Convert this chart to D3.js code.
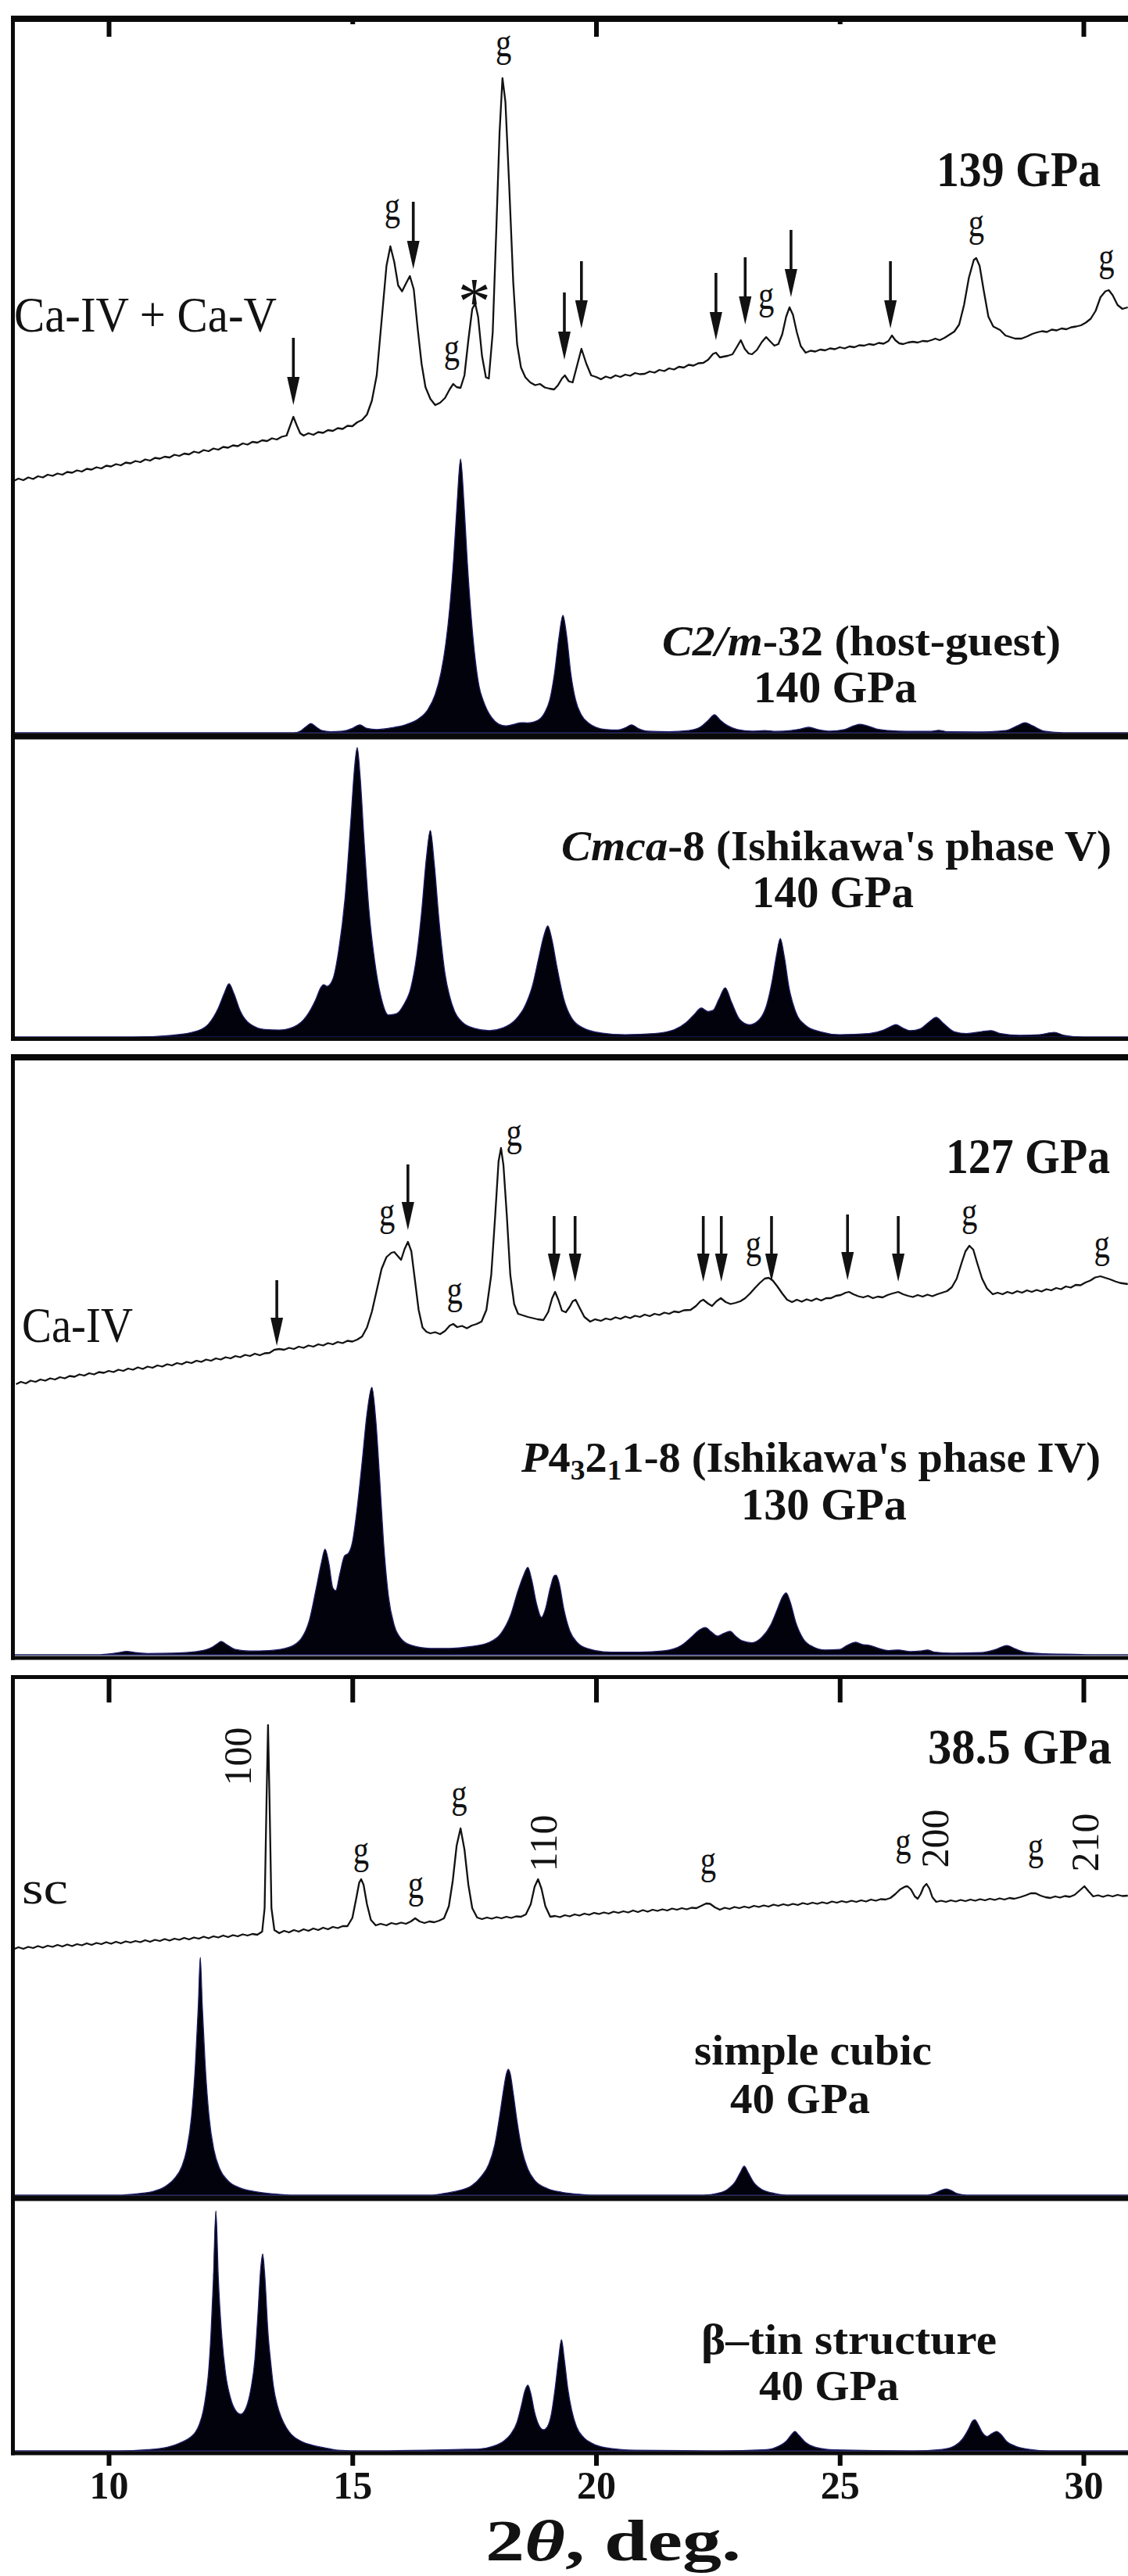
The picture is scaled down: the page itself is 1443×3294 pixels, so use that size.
<!DOCTYPE html>
<html><head><meta charset="utf-8">
<script src="https://cdn.jsdelivr.net/npm/d3@7/dist/d3.min.js"></script>
<style>
body{margin:0;background:#fff}
svg{display:block}
text{font-family:"Liberation Serif","Times New Roman",Times,serif}
</style>
</head><body>
<svg id="chart"></svg>
<script>
// ---------------- DATA (2θ in degrees, intensity in arbitrary units) ----------------
const tickValues = [10, 15, 20, 25, 30];

// measured pattern, 139 GPa (Ca-IV + Ca-V)
const exp139 = [[8.05,7.0],[8.15,7.6],[8.25,7.2],[8.35,7.9],[8.45,7.5],[8.55,8.2],[8.65,7.9],[8.75,8.6],[8.85,8.3],[8.95,8.9],[9.05,8.6],[9.15,9.3],[9.25,9.1],[9.35,9.7],[9.45,9.4],[9.55,10.1],[9.65,9.9],[9.75,10.5],[9.85,10.2],[9.95,10.9],[10.05,10.7],[10.15,11.3],[10.25,11.0],[10.35,11.7],[10.45,11.5],[10.55,12.1],[10.65,11.8],[10.75,12.5],[10.85,12.2],[10.95,12.9],[11.05,12.7],[11.15,13.2],[11.25,13.0],[11.35,13.7],[11.45,13.4],[11.55,14.0],[11.65,13.8],[11.75,14.5],[11.85,14.2],[11.95,14.9],[12.05,14.6],[12.15,15.3],[12.25,15.0],[12.35,15.7],[12.45,15.5],[12.55,16.1],[12.65,15.9],[12.75,16.6],[12.85,16.3],[12.95,17.0],[13.05,16.8],[13.15,17.4],[13.25,17.2],[13.35,17.9],[13.45,17.6],[13.55,18.3],[13.65,18.6],[13.72,21.0],[13.79,23.4],[13.86,21.2],[13.93,19.2],[14.0,18.6],[14.1,19.2],[14.2,18.8],[14.3,19.5],[14.4,19.3],[14.5,20.0],[14.6,19.8],[14.7,20.5],[14.8,20.3],[14.9,21.1],[15.0,21.0],[15.1,22.0],[15.2,22.6],[15.3,24.0],[15.4,27.5],[15.5,34],[15.6,48],[15.7,62],[15.78,67],[15.86,63],[15.94,57],[16.02,55.5],[16.1,57.5],[16.18,59.4],[16.26,56],[16.34,46],[16.42,37],[16.5,31],[16.6,28],[16.7,26.4],[16.8,27],[16.9,28.2],[17.0,30.5],[17.07,31.8],[17.14,31],[17.22,30.8],[17.3,34],[17.38,43],[17.46,51],[17.52,52.4],[17.58,49],[17.66,39],[17.74,33.5],[17.8,33.2],[17.88,45],[17.95,70],[18.02,96],[18.08,110],[18.14,104],[18.22,82],[18.3,58],[18.38,42],[18.46,36],[18.55,33.5],[18.65,32.2],[18.75,31.5],[18.85,31.8],[18.95,30.9],[19.05,30.6],[19.14,30.4],[19.22,31.5],[19.3,33.2],[19.36,34],[19.44,32.5],[19.52,32.2],[19.6,36],[19.7,40.8],[19.8,37],[19.9,34],[20.0,33.6],[20.1,33.0],[20.2,33.7],[20.3,33.3],[20.4,34.0],[20.5,33.6],[20.6,34.2],[20.7,33.9],[20.8,34.6],[20.9,34.3],[21.0,34.4],[21.1,35.0],[21.2,34.7],[21.3,35.4],[21.4,35.1],[21.5,35.8],[21.6,35.5],[21.7,36.2],[21.8,36.0],[21.9,36.7],[22.0,36.5],[22.1,37.1],[22.2,37.2],[22.3,38],[22.4,39.5],[22.46,39.8],[22.54,38.6],[22.62,38.8],[22.7,39],[22.8,39.4],[22.9,41.5],[22.97,43],[23.05,40.8],[23.13,39.6],[23.2,39.4],[23.3,40.5],[23.4,42.5],[23.49,43.8],[23.58,42.6],[23.66,41.6],[23.74,42],[23.82,44.5],[23.9,49],[23.97,51.4],[24.04,49.5],[24.12,45],[24.2,41.5],[24.3,39.8],[24.4,40.3],[24.5,40.1],[24.6,40.6],[24.7,40.4],[24.8,40.9],[24.9,40.7],[25.0,41.2],[25.1,40.9],[25.2,41.4],[25.3,41.2],[25.4,41.7],[25.5,41.6],[25.6,42.0],[25.7,41.8],[25.8,42.3],[25.9,42.1],[26.0,42.8],[26.07,44.2],[26.14,43.0],[26.22,42.2],[26.3,42.0],[26.4,42.4],[26.5,42.6],[26.6,42.4],[26.7,42.8],[26.8,42.7],[26.9,43.1],[26.96,43.4],[27.05,43.0],[27.15,43.6],[27.25,44.4],[27.35,45.2],[27.45,47],[27.55,52],[27.65,59],[27.75,63.5],[27.8,64],[27.87,62],[27.95,56],[28.05,49],[28.15,46.5],[28.29,45.6],[28.4,44.2],[28.5,43.8],[28.6,43.4],[28.73,43.4],[28.85,44.0],[28.95,44.6],[29.05,45.0],[29.15,45.3],[29.25,45.1],[29.35,45.7],[29.45,45.5],[29.55,46.0],[29.65,45.8],[29.75,46.3],[29.85,46.5],[29.95,46.8],[30.05,47.5],[30.15,48.5],[30.25,50.5],[30.35,54],[30.45,55.5],[30.52,55.8],[30.6,54.5],[30.7,52],[30.8,51],[30.91,51.4]];
const arrows139 = [[13.79,26.4],[16.25,61.2],[19.35,38],[19.7,46],[22.46,43],[23.06,47],[24.0,54],[26.04,46]];
const g139 = [[18.1,113.4],[15.82,71.6],[17.04,35.4],[23.49,48.8],[27.8,67.4],[30.47,58.6]];
const star139 = [17.5,53.2];

// calculated C2/m-32 (host-guest), 140 GPa
const calcC2m = [[8.0,0],[13.8,0],[13.95,0.8],[14.05,2.2],[14.15,3.4],[14.25,2.2],[14.38,0.8],[14.55,0.4],[14.8,0.6],[15.0,1.6],[15.15,2.9],[15.3,1.6],[15.5,1.2],[15.8,1.8],[16.1,3.0],[16.35,5.0],[16.55,8.5],[16.7,14],[16.82,22],[16.92,33],[17.0,46],[17.08,64],[17.15,84],[17.22,100],[17.29,84],[17.36,62],[17.44,42],[17.52,27],[17.6,17],[17.68,12],[17.76,8.5],[17.86,5.5],[18.0,3.2],[18.15,2.5],[18.3,3.0],[18.47,3.7],[18.6,3.6],[18.8,4.5],[18.95,7.5],[19.05,12],[19.15,22],[19.24,35],[19.32,42.9],[19.4,35],[19.48,22],[19.58,12],[19.7,6.5],[19.85,3.5],[20.0,2.0],[20.2,1.2],[20.45,1.0],[20.6,1.8],[20.73,2.9],[20.86,1.6],[21.05,0.6],[21.5,0.4],[21.9,0.8],[22.15,2.2],[22.3,4.5],[22.43,6.6],[22.55,4.6],[22.7,2.6],[22.9,1.2],[23.2,0.6],[23.46,0.8],[23.7,0.5],[24.0,0.8],[24.2,1.4],[24.37,2.0],[24.55,1.2],[24.8,0.6],[25.1,1.2],[25.3,2.6],[25.41,3.1],[25.55,2.6],[25.75,1.4],[26.0,0.8],[26.4,0.5],[26.85,0.5],[27.03,0.9],[27.2,0.4],[27.8,0.3],[28.4,0.8],[28.65,2.6],[28.8,3.7],[28.95,2.6],[29.2,0.6],[29.6,0],[31,0]];

// calculated Cmca-8 (Ishikawa's phase V), 140 GPa
const calcCmca = [[8.0,0],[10.5,0],[11.3,0.6],[11.8,2.0],[12.05,4.5],[12.25,10],[12.37,15],[12.47,18.4],[12.57,15],[12.7,9],[12.9,4.5],[13.2,2.6],[13.5,2.4],[13.8,3.5],[14.05,7],[14.25,13],[14.35,17],[14.41,18.1],[14.48,17.5],[14.6,20],[14.72,30],[14.85,48],[14.97,75],[15.05,94],[15.1,100],[15.16,90],[15.24,68],[15.34,44],[15.46,26],[15.6,13],[15.74,7.6],[15.9,8],[16.05,11],[16.2,17],[16.32,28],[16.42,43],[16.52,62],[16.6,71.4],[16.68,60],[16.78,40],[16.9,22],[17.05,11],[17.25,5.2],[17.5,3],[17.81,2.2],[18.1,3.2],[18.35,6],[18.55,11],[18.7,18],[18.82,27],[18.93,35],[19.01,38.4],[19.09,34],[19.2,24],[19.34,13],[19.5,6.5],[19.75,3],[20.1,1.4],[20.6,0.8],[21.2,1.2],[21.6,2.5],[21.85,5],[22.0,7.5],[22.16,10],[22.3,8.8],[22.4,9.2],[22.52,13],[22.65,17],[22.78,12],[22.95,6],[23.15,4.2],[23.35,6],[23.5,11],[23.62,20],[23.7,28],[23.78,34],[23.86,28],[23.96,17],[24.1,8.5],[24.3,4],[24.6,1.8],[25.0,0.8],[25.6,1.2],[25.9,2.4],[26.05,3.6],[26.15,4.3],[26.28,3.2],[26.45,2.2],[26.65,2.8],[26.82,5],[26.98,6.8],[27.12,4.8],[27.35,1.8],[27.6,1.2],[27.9,1.8],[28.1,2.2],[28.3,1.2],[28.7,0.6],[29.1,0.8],[29.4,1.6],[29.6,0.6],[30.0,0],[31,0]];

// measured pattern, 127 GPa (Ca-IV)
const exp127 = [[8.1,2.0],[8.2,2.6],[8.3,2.2],[8.4,2.9],[8.5,2.6],[8.6,3.2],[8.7,2.9],[8.8,3.5],[8.9,3.2],[9.0,3.8],[9.1,3.5],[9.2,4.1],[9.3,3.9],[9.4,4.5],[9.5,4.2],[9.6,4.8],[9.7,4.5],[9.8,5.1],[9.9,4.9],[10.0,5.4],[10.1,5.1],[10.2,5.7],[10.3,5.4],[10.4,6.0],[10.5,5.7],[10.6,6.3],[10.7,5.9],[10.8,6.5],[10.9,6.2],[11.0,6.8],[11.1,6.5],[11.2,7.1],[11.3,6.8],[11.4,7.4],[11.5,7.1],[11.6,7.7],[11.7,7.4],[11.8,8.0],[11.9,7.7],[12.0,8.3],[12.1,8.0],[12.2,8.6],[12.3,8.3],[12.4,8.9],[12.5,8.6],[12.6,9.2],[12.7,8.9],[12.8,9.5],[12.9,9.2],[13.0,9.8],[13.1,9.4],[13.2,9.9],[13.3,10.0],[13.4,10.8],[13.5,11.0],[13.6,10.8],[13.7,11.3],[13.8,11.0],[13.9,11.6],[14.0,11.3],[14.1,11.9],[14.2,11.6],[14.3,12.2],[14.4,11.9],[14.5,12.5],[14.6,12.2],[14.7,12.8],[14.8,12.5],[14.9,13.1],[15.0,12.9],[15.1,13.4],[15.2,14.2],[15.3,16.5],[15.4,20.5],[15.5,26],[15.6,31.5],[15.7,34.5],[15.8,35.6],[15.86,35.8],[15.93,34.8],[16.0,33.8],[16.07,36.5],[16.14,38.4],[16.21,36],[16.28,29],[16.36,21],[16.44,16.5],[16.52,15.4],[16.6,15.0],[16.7,15.3],[16.8,14.8],[16.9,15.6],[17.0,17.0],[17.07,17.4],[17.15,16.6],[17.25,16.9],[17.35,16.3],[17.45,17.0],[17.55,17.4],[17.65,18.0],[17.75,21],[17.85,30],[17.93,45],[18.0,59],[18.05,62.4],[18.1,58],[18.17,45],[18.24,30],[18.32,22.5],[18.4,20.0],[18.5,19.6],[18.6,19.2],[18.7,18.9],[18.8,18.6],[18.92,18.4],[19.02,20.5],[19.1,24],[19.16,25.6],[19.23,23.5],[19.3,20.8],[19.38,20.4],[19.46,21.8],[19.52,23.2],[19.58,23.6],[19.66,21.6],[19.76,19.2],[19.88,18.0],[19.98,18.6],[20.1,18.2],[20.2,18.8],[20.3,18.5],[20.4,19.1],[20.5,18.7],[20.6,19.3],[20.7,18.9],[20.8,19.5],[20.9,19.2],[21.0,19.8],[21.1,19.4],[21.2,20.0],[21.3,19.7],[21.4,20.3],[21.5,20.0],[21.6,20.6],[21.7,20.4],[21.8,20.9],[21.94,21.0],[22.05,22.0],[22.14,23.2],[22.2,23.6],[22.3,22.6],[22.38,22.0],[22.47,23.2],[22.56,24.0],[22.66,23.0],[22.76,22.5],[22.86,22.8],[22.96,23.2],[23.06,24.0],[23.16,25.2],[23.26,26.6],[23.36,27.9],[23.46,29.0],[23.54,29.2],[23.62,28.6],[23.72,27.0],[23.82,25.2],[23.92,23.6],[24.02,23.0],[24.12,23.6],[24.22,23.1],[24.32,23.7],[24.42,23.3],[24.52,23.9],[24.62,23.4],[24.72,24.0],[24.82,24.0],[24.92,24.6],[25.02,24.8],[25.12,25.4],[25.19,25.6],[25.28,25.0],[25.38,24.5],[25.48,24.2],[25.58,24.6],[25.68,24.0],[25.78,24.4],[25.88,24.2],[25.98,24.8],[26.08,25.2],[26.2,25.6],[26.3,25.0],[26.4,24.6],[26.5,24.3],[26.6,24.8],[26.7,24.4],[26.8,24.9],[26.9,24.5],[27.0,25.0],[27.1,25.4],[27.2,25.8],[27.3,26.8],[27.4,29.0],[27.5,33.0],[27.58,36.0],[27.66,37.4],[27.74,36.4],[27.82,33.0],[27.92,29.0],[28.02,26.5],[28.14,25.0],[28.24,25.4],[28.34,25.0],[28.44,25.6],[28.54,25.2],[28.64,25.8],[28.74,25.4],[28.84,26.0],[28.94,25.6],[29.04,26.1],[29.14,25.7],[29.24,26.3],[29.34,26.0],[29.44,26.6],[29.54,26.3],[29.64,27.0],[29.74,26.7],[29.84,27.4],[29.94,27.3],[30.04,28.0],[30.14,28.5],[30.24,29.3],[30.35,29.6],[30.45,29.2],[30.55,28.8],[30.65,28.3],[30.75,27.9],[30.91,27.6]];
const arrows127 = [[13.45,11.8],[16.14,41.4],[19.14,28.2],[19.57,28.2],[22.2,28.2],[22.57,28.2],[23.6,28.2],[25.16,28.6],[26.2,28.2]];
const g127 = [[18.32,60.8],[15.71,40.4],[17.1,20.4],[23.23,32.2],[27.66,40.4],[30.38,32.2]];

// calculated P4(3)2(1)1-8 (Ishikawa's phase IV), 130 GPa
const calcP43 = [[8.0,0],[9.8,0],[10.0,0.3],[10.2,0.8],[10.37,1.3],[10.55,0.8],[10.8,0.5],[11.3,0.6],[11.8,1.2],[12.1,2.6],[12.22,4.0],[12.31,5.0],[12.42,3.8],[12.6,2.0],[12.9,1.4],[13.3,1.6],[13.7,2.8],[13.95,6],[14.12,13],[14.26,25],[14.36,34],[14.44,39.5],[14.52,34],[14.6,25],[14.66,24],[14.74,30],[14.84,37],[14.92,38],[15.0,42],[15.1,55],[15.2,72],[15.3,90],[15.4,100],[15.48,88],[15.56,66],[15.64,42],[15.74,22],[15.86,11],[16.0,6],[16.2,3.6],[16.6,2.4],[17.0,2.4],[17.4,3],[17.8,4.6],[18.05,8],[18.25,15],[18.4,24],[18.52,30],[18.6,32.7],[18.68,28],[18.78,19],[18.88,14],[18.96,17],[19.06,25],[19.14,29.5],[19.18,29.8],[19.24,27],[19.34,17],[19.46,9],[19.62,4.5],[19.85,2.2],[20.3,1.0],[20.9,1.0],[21.4,1.5],[21.75,3.5],[21.95,6.5],[22.1,9],[22.24,10.2],[22.36,8.6],[22.5,7],[22.62,8],[22.75,8.8],[22.86,7],[23.0,5.2],[23.2,4.5],[23.4,6.5],[23.58,11],[23.72,17],[23.82,21.5],[23.9,23.1],[23.98,20],[24.1,12],[24.25,6],[24.45,3],[24.7,1.8],[25.0,2.0],[25.15,3.5],[25.33,4.7],[25.45,3.9],[25.62,3.5],[25.8,2.4],[26.0,1.6],[26.2,1.8],[26.45,1.2],[26.65,1.4],[26.8,1.8],[26.95,1.0],[27.3,0.6],[27.9,0.8],[28.2,2.0],[28.43,3.5],[28.6,2.2],[28.85,0.8],[29.3,0.3],[29.8,0.2],[30.2,0],[31,0]];

// measured pattern, 38.5 GPa (sc)
const exp385 = [[8.05,1.5],[8.15,2.0],[8.25,1.6],[8.35,2.1],[8.45,1.8],[8.55,2.3],[8.65,1.9],[8.75,2.4],[8.85,2.1],[8.95,2.6],[9.05,2.2],[9.15,2.7],[9.25,2.3],[9.35,2.8],[9.45,2.5],[9.55,3.0],[9.65,2.6],[9.75,3.1],[9.85,2.8],[9.95,3.3],[10.05,2.9],[10.15,3.4],[10.25,3.0],[10.35,3.5],[10.45,3.2],[10.55,3.6],[10.65,3.3],[10.75,3.8],[10.85,3.4],[10.95,3.9],[11.05,3.6],[11.15,4.1],[11.25,3.7],[11.35,4.2],[11.45,3.9],[11.55,4.4],[11.65,4.0],[11.75,4.5],[11.85,4.2],[11.95,4.7],[12.05,4.3],[12.15,4.8],[12.25,4.5],[12.35,5.0],[12.45,4.6],[12.55,5.1],[12.65,4.8],[12.75,5.3],[12.85,5.0],[12.95,5.4],[13.05,5.2],[13.15,6.0],[13.2,12],[13.24,40],[13.27,58.8],[13.3,40],[13.34,12],[13.4,6.4],[13.5,5.6],[13.6,6.2],[13.7,5.8],[13.8,6.4],[13.9,6.0],[14.0,6.6],[14.1,6.2],[14.2,6.8],[14.3,6.4],[14.4,7.0],[14.5,6.6],[14.6,7.2],[14.7,6.9],[14.8,7.4],[14.9,7.4],[15.0,9.5],[15.08,14.5],[15.14,18.5],[15.18,19.4],[15.23,18],[15.3,13],[15.38,9],[15.48,7.6],[15.58,8.0],[15.7,7.6],[15.8,8.2],[15.9,7.9],[16.0,8.3],[16.1,8.0],[16.2,8.6],[16.29,9.4],[16.38,8.6],[16.48,8.2],[16.58,8.6],[16.68,8.4],[16.78,8.8],[16.88,9.4],[16.98,12.5],[17.06,19],[17.14,28],[17.22,32.4],[17.3,27],[17.38,18],[17.46,12],[17.56,9.6],[17.66,9.2],[17.76,9.6],[17.86,9.3],[17.96,9.7],[18.06,9.4],[18.16,9.8],[18.26,9.5],[18.36,9.9],[18.46,9.8],[18.56,10.4],[18.66,13.0],[18.74,17.5],[18.81,19.4],[18.88,17],[18.96,12.5],[19.06,9.8],[19.16,10.0],[19.26,9.7],[19.36,10.2],[19.46,9.9],[19.56,10.4],[19.66,10.1],[19.76,10.6],[19.86,10.3],[19.96,10.8],[20.06,10.5],[20.16,10.9],[20.26,10.6],[20.36,11.1],[20.46,10.8],[20.56,11.2],[20.66,10.9],[20.76,11.4],[20.86,11.0],[20.96,11.5],[21.06,11.1],[21.16,11.6],[21.26,11.3],[21.36,11.7],[21.46,11.4],[21.56,11.9],[21.66,11.6],[21.76,12.0],[21.86,11.7],[21.96,12.1],[22.06,12.0],[22.16,12.6],[22.26,13.2],[22.34,13.1],[22.44,12.2],[22.54,11.6],[22.64,12.1],[22.74,11.8],[22.84,12.3],[22.94,12.0],[23.04,12.4],[23.14,12.1],[23.24,12.6],[23.34,12.3],[23.44,12.7],[23.54,12.4],[23.64,12.9],[23.74,12.6],[23.84,13.0],[23.94,12.7],[24.04,13.1],[24.14,12.8],[24.24,13.3],[24.34,13.0],[24.44,13.4],[24.54,13.1],[24.64,13.5],[24.74,13.2],[24.84,13.7],[24.94,13.4],[25.04,13.8],[25.14,13.5],[25.24,13.9],[25.34,13.6],[25.44,14.0],[25.54,13.7],[25.64,14.2],[25.74,13.9],[25.84,14.3],[25.94,14.2],[26.04,14.6],[26.14,15.6],[26.24,16.8],[26.34,17.5],[26.39,17.6],[26.46,16.8],[26.54,15.0],[26.6,14.4],[26.66,15.6],[26.72,17.4],[26.78,18.2],[26.84,17],[26.9,14.8],[26.98,13.6],[27.08,13.9],[27.18,13.6],[27.28,14.0],[27.38,13.7],[27.48,14.1],[27.58,13.8],[27.68,14.2],[27.78,13.9],[27.88,14.3],[27.98,14.0],[28.08,14.4],[28.18,14.1],[28.28,14.5],[28.38,14.2],[28.48,14.6],[28.58,14.4],[28.7,14.8],[28.82,15.3],[28.92,15.8],[29.02,15.8],[29.12,15.2],[29.22,14.8],[29.32,14.6],[29.42,15.0],[29.52,14.7],[29.62,15.1],[29.72,14.9],[29.82,15.4],[29.92,16.5],[30.02,17.6],[30.1,16.4],[30.2,15.0],[30.3,15.3],[30.4,14.9],[30.5,15.3],[30.6,15.0],[30.7,15.4],[30.8,15.1],[30.91,15.2]];
const g385 = [[15.18,21.2],[16.3,12.4],[17.19,35.6],[22.3,18.6],[26.3,23.4],[29.02,22.2]];
const hkl385 = [["100",12.65,50.8],["110",18.92,28.6],["200",26.95,29.8],["210",30.03,28.8]];

// calculated simple cubic, 40 GPa
const calcSC = [[8.0,0],[10.2,0],[10.6,0.6],[10.9,1.5],[11.15,3.5],[11.35,7],[11.5,12],[11.6,19],[11.7,33],[11.78,55],[11.84,80],[11.88,100],[11.92,80],[11.98,55],[12.06,33],[12.16,19],[12.28,11],[12.45,6],[12.7,3],[13.0,1.5],[13.4,0.5],[13.8,0],[16.6,0],[16.9,0.8],[17.2,2],[17.45,4],[17.65,8],[17.8,13],[17.92,21],[18.02,33],[18.1,44],[18.16,51],[18.2,53],[18.24,51],[18.3,43],[18.38,31],[18.48,19],[18.6,11],[18.75,6],[19.0,2.8],[19.3,1.2],[19.7,0.3],[20.0,0],[22.2,0],[22.5,0.8],[22.7,2.5],[22.85,5.5],[22.96,9.5],[23.04,12.2],[23.12,9.5],[23.24,5.2],[23.4,2.4],[23.6,1],[23.9,0],[26.8,0],[26.95,0.8],[27.08,2],[27.18,2.6],[27.28,2],[27.42,0.6],[27.6,0],[31,0]];

// calculated beta-tin structure, 40 GPa
const calcBeta = [[8.0,0],[10.2,0],[10.8,0.5],[11.2,1.5],[11.5,3.6],[11.7,6],[11.78,7.8],[11.86,11],[11.94,16.6],[12.0,24],[12.05,33],[12.1,49],[12.15,72],[12.2,100],[12.25,72],[12.32,48],[12.4,32],[12.5,22],[12.6,17],[12.71,15.3],[12.82,18],[12.92,26],[13.0,38],[13.06,56],[13.12,76],[13.16,82],[13.2,74],[13.27,49],[13.33,36],[13.38,27],[13.46,19],[13.54,14],[13.65,9.5],[13.75,6.8],[13.95,4],[14.19,2.3],[14.5,1],[14.7,0.3],[15.2,0],[16.5,0.3],[17.2,0.6],[17.6,0.8],[17.9,2],[18.1,4],[18.25,7],[18.38,12],[18.47,19],[18.54,25],[18.6,27.4],[18.66,24],[18.74,16],[18.82,11],[18.92,8.8],[19.0,10],[19.08,15],[19.16,26],[19.23,38],[19.29,46.3],[19.35,38],[19.42,26],[19.5,17],[19.6,10],[19.75,5.5],[19.95,2.8],[20.3,1],[20.8,0.3],[22.5,0],[23.5,0.5],[23.75,2],[23.9,4],[24.0,6.5],[24.08,8.1],[24.16,6.5],[24.3,3.5],[24.5,1.5],[24.9,0.4],[26.5,0],[27.1,0.6],[27.35,2],[27.52,5],[27.64,9],[27.72,12.3],[27.77,13],[27.84,11],[27.93,7.5],[28.02,6],[28.12,7.2],[28.22,8.1],[28.3,7],[28.42,4],[28.6,2],[28.9,0.6],[29.3,0],[31,0]];

// ---------------- DRAWING ----------------
const W = 1443, H = 3294;
const FONT = "Liberation Serif, Times New Roman, Times, serif";
const INK = "#121212";
const svg = d3.select("#chart").attr("width", W).attr("height", H);
svg.append("rect").attr("width", W).attr("height", H).attr("fill", "#fff");

const x = d3.scaleLinear().domain([8, 31]).range([14.3, 1448.35]);

// per-panel intensity scales
const y139  = d3.scaleLinear().domain([0, 100]).range([650, 150]);
const yC2m  = d3.scaleLinear().domain([0, 100]).range([937, 587]);
const yCmca = d3.scaleLinear().domain([0, 100]).range([1326, 956]);
const y127  = d3.scaleLinear().domain([0, 100]).range([1780, 1280]);
const yP43  = d3.scaleLinear().domain([0, 100]).range([2116, 1774]);
const y385  = d3.scaleLinear().domain([0, 100]).range([2500, 2000]);
const ySC   = d3.scaleLinear().domain([0, 100]).range([2807, 2503]);
const yBeta = d3.scaleLinear().domain([0, 100]).range([3134, 2827]);

const plot = svg.append("g");

function trace(data, y) {
  plot.append("path").datum(data)
    .attr("fill", "none").attr("stroke", INK).attr("stroke-width", 2.3)
    .attr("stroke-linejoin", "round")
    .attr("d", d3.line().x(d => x(d[0])).y(d => y(d[1])));
}
function pattern(data, y) {
  plot.append("path").datum(data)
    .attr("fill", "#02020c").attr("stroke", "#1d1d66").attr("stroke-width", 1.3)
    .attr("d", d3.area().curve(d3.curveMonotoneX)
      .x(d => x(d[0])).y0(y(0)).y1(d => y(d[1])));
}
function arrows(list, y, len) {
  list.forEach(([v, I]) => {
    const xx = x(v), tip = y(I);
    plot.append("line").attr("x1", xx).attr("x2", xx)
      .attr("y1", tip - len).attr("y2", tip - 24)
      .attr("stroke", INK).attr("stroke-width", 3.6);
    plot.append("path")
      .attr("d", `M${xx - 8},${tip - 36} L${xx + 8},${tip - 36} L${xx},${tip} Z`)
      .attr("fill", INK);
  });
}
function gLabels(list, y) {
  list.forEach(([v, I]) => {
    plot.append("text").text("g")
      .attr("transform", `translate(${x(v)},${y(I) - 11}) scale(0.78,1)`)
      .attr("font-family", FONT)
      .attr("text-anchor", "middle").attr("font-size", 52).attr("fill", INK);
  });
}

trace(exp139, y139);
pattern(calcC2m, yC2m);
pattern(calcCmca, yCmca);
trace(exp127, y127);
pattern(calcP43, yP43);
trace(exp385, y385);
pattern(calcSC, ySC);
pattern(calcBeta, yBeta);

arrows(arrows139, y139, 86);
arrows(arrows127, y127, 84);
gLabels(g139, y139);
gLabels(g127, y127);
gLabels(g385, y385);
plot.append("text").text("*")
  .attr("font-family", FONT)
  .attr("x", x(star139[0])).attr("y", y139(star139[1]) + 30)
  .attr("text-anchor", "middle").attr("font-size", 84).attr("fill", INK);
hkl385.forEach(([s, v, I]) => {
  plot.append("text").text(s)
    .attr("font-family", FONT)
    .attr("transform", `translate(${x(v)},${y385(I)}) rotate(-90)`)
    .attr("text-anchor", "middle").attr("dominant-baseline", "central")
    .attr("font-size", 50).attr("fill", INK);
});

// ---------------- FRAMES ----------------
const frame = svg.append("g").attr("stroke", "#0a0a0a").attr("fill", "none");
function hline(yy, w) { frame.append("line").attr("x1", 14).attr("x2", W).attr("y1", yy).attr("y2", yy).attr("stroke-width", w); }
function vline(y1, y2) { frame.append("line").attr("x1", 16.5).attr("x2", 16.5).attr("y1", y1).attr("y2", y2).attr("stroke-width", 5); }
hline(24, 8); hline(941.5, 8); hline(1328.5, 5);
hline(1352, 8); hline(2120, 5);
hline(2144.5, 5); hline(2811, 7); hline(3137, 5);
vline(20, 1331); vline(1348, 2122.5); vline(2142, 3139.5);

// ---------------- AXES ----------------
function tickAxis(yy, values, size) {
  const a = svg.append("g").attr("transform", `translate(0,${yy})`)
    .call(d3.axisBottom(x).tickValues(values).tickSize(size).tickFormat(""));
  a.select(".domain").remove();
  a.selectAll("line").attr("stroke", "#0a0a0a").attr("stroke-width", 6);
  return a;
}
tickAxis(26, [10, 20, 30], 21);
tickAxis(26, [15, 25], 5);
tickAxis(2145, tickValues, 32);
const bottom = svg.append("g").attr("transform", "translate(0,3137)")
  .call(d3.axisBottom(x).tickValues(tickValues).tickSize(16).tickPadding(10));
bottom.select(".domain").remove();
bottom.selectAll("line").attr("stroke", "#0a0a0a").attr("stroke-width", 6);
bottom.attr("font-family", FONT);
bottom.selectAll("text").attr("font-family", FONT).attr("font-size", 50)
  .attr("font-weight", "bold").attr("fill", INK).attr("dy", null).attr("y", 58);

// ---------------- TEXT ----------------
function label(xp, yp, parts, size, len, weight = "bold") {
  const t = svg.append("text").attr("x", xp).attr("y", yp)
    .attr("font-family", FONT)
    .attr("font-size", size).attr("font-weight", weight).attr("fill", INK);
  if (len) t.attr("textLength", len).attr("lengthAdjust", "spacingAndGlyphs");
  parts.forEach(p => {
    const s = t.append("tspan").text(p.t);
    if (p.i) s.attr("font-style", "italic");
    if (p.dy) s.attr("dy", p.dy);
    if (p.fs) s.attr("font-size", p.fs);
  });
  return t;
}
label(1198, 238, [{t: "139 GPa"}], 64, 210);
label(18, 424, [{t: "Ca-IV + Ca-V"}], 64, 336, "normal");
label(847, 838, [{t: "C2/m", i: 1}, {t: "-32 (host-guest)"}], 54, 510);
label(964, 898, [{t: "140 GPa"}], 56, 209);
label(718, 1100, [{t: "Cmca", i: 1}, {t: "-8 (Ishikawa's phase V)"}], 54, 704);
label(962, 1160, [{t: "140 GPa"}], 56, 207);
label(1210, 1500, [{t: "127 GPa"}], 64, 210);
label(28, 1716, [{t: "Ca-IV"}], 64, 142, "normal");
label(667, 1882, [{t: "P", i: 1}, {t: "4"}, {t: "3", dy: 10, fs: 36}, {t: "2", dy: -10}, {t: "1", dy: 10, fs: 36}, {t: "1-8 (Ishikawa's  phase IV)", dy: -10}], 54, 741);
label(948, 1943, [{t: "130 GPa"}], 56, 212);
label(1187, 2255, [{t: "38.5 GPa"}], 64, 235);
label(28, 2434, [{t: "sc"}], 60, 59, "normal");
label(888, 2640, [{t: "simple cubic"}], 54, 304);
label(934, 2702, [{t: "40 GPa"}], 54, 179);
label(897, 3010, [{t: "β–tin structure"}], 54, 378);
label(971, 3069, [{t: "40 GPa"}], 54, 179);
label(621, 3274, [{t: "2"}, {t: "θ", i: 1}, {t: ", deg."}], 74, 327);
</script>
</body></html>
